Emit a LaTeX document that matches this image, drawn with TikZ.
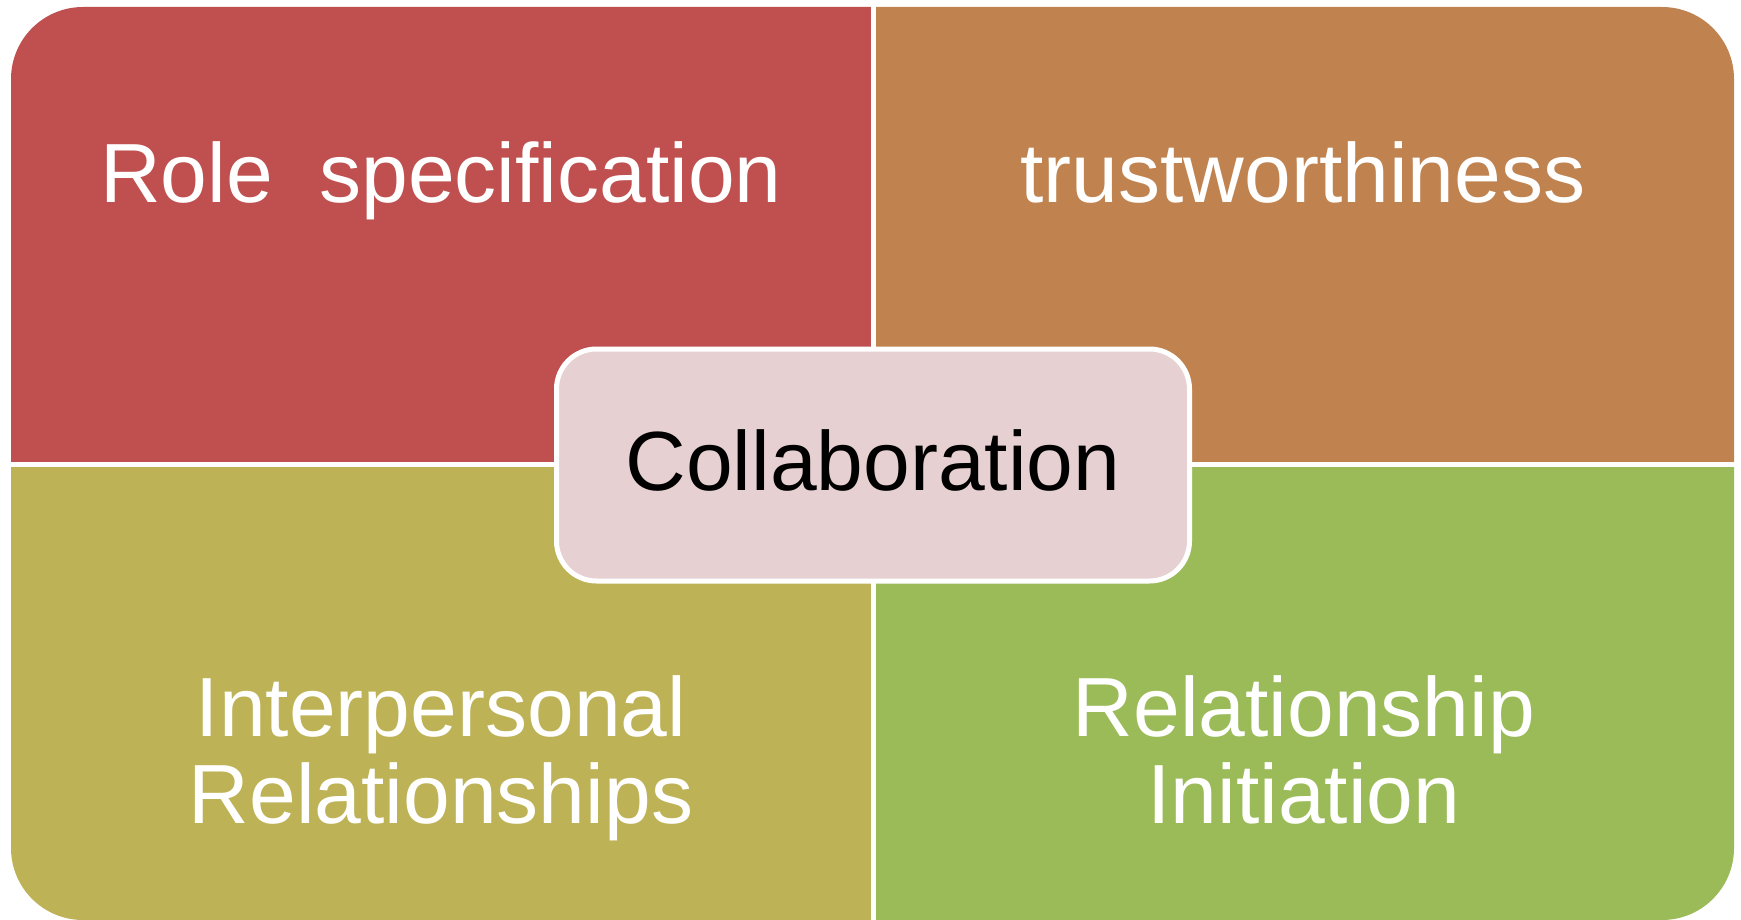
\documentclass[tikz,border=0pt]{standalone}
\usepackage{fontspec}
\setmainfont{Liberation Sans}
\definecolor{qred}{HTML}{C0504F}
\definecolor{qorange}{HTML}{C08350}
\definecolor{qolive}{HTML}{BEB256}
\definecolor{qgreen}{HTML}{9BBB59}
\definecolor{qcenter}{HTML}{E7D0D1}
\begin{document}
\begin{tikzpicture}[x=1pt,y=-1pt,
  quadtext/.style={text=white,font=\fontsize{84}{87}\selectfont,align=center,inner sep=0pt},
  centerbox/.style={fill=qcenter,draw=white,line width=5pt,rounded corners=40pt,
    minimum width=633pt,minimum height=232pt,inner sep=0pt,
    font=\fontsize{84}{87}\selectfont,text=black}]
\useasboundingbox (0,0) rectangle (1741,920);
\fill[white] (0,0) rectangle (1741,920);
% quadrants
\begin{scope}
  \clip (0,0) rectangle (873,464);
  \fill[qred,rounded corners=72pt] (11,7) rectangle (1734,920);
\end{scope}
\begin{scope}
  \clip (873,0) rectangle (1741,464);
  \fill[qorange,rounded corners=72pt] (11,7) rectangle (1734,920);
\end{scope}
\begin{scope}
  \clip (0,464) rectangle (873,930);
  \fill[qolive,rounded corners=72pt] (11,7) rectangle (1734,920);
\end{scope}
\begin{scope}
  \clip (873,464) rectangle (1741,930);
  \fill[qgreen,rounded corners=72pt] (11,7) rectangle (1734,920);
\end{scope}
% dividers
\coordinate (vt) at (873,0);
\coordinate (vb) at (873,930);
\coordinate (hl) at (0,464);
\coordinate (hr) at (1741,464);
\draw[white,line width=5pt] (vt) -- (vb);
\draw[white,line width=5pt] (hl) -- (hr);
% texts
\node[quadtext,anchor=base] (role) at (441,203) {Role\ \ specification};
\node[quadtext,anchor=base] (trust) at (1303,203) {trustworthiness};
\node[quadtext] (inter) at (441,758) {Interpersonal\\Relationships};
\node[quadtext] (relinit) at (1304,750) {Relationship\\Initiation};
% center
\node[centerbox] (collab) at (873,465) {};
\node[anchor=base,font=\fontsize{84}{87}\selectfont,inner sep=0pt] (collabtext) at (873,490) {Collaboration};
\end{tikzpicture}
\end{document}
